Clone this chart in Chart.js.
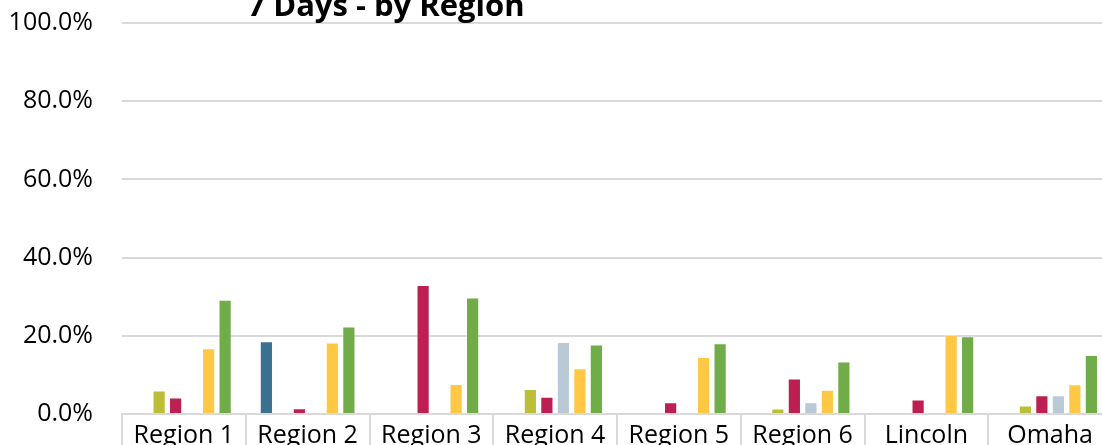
<!DOCTYPE html>
<html>
<head>
<meta charset="utf-8">
<script src="https://cdn.jsdelivr.net/npm/chart.js@4"></script>
<style>
  html, body { margin: 0; padding: 0; background: #fff; }
  #wrap { position: relative; width: 1102px; height: 445px; overflow: hidden; }
  #chart { position: absolute; left: 0; top: -21px; }
</style>
</head>
<body>
<div id="wrap"><canvas id="chart" width="1112" height="491"></canvas></div>
<script>
// Share of cases (%) over the last 7 days, per region
const categories = ['Region 1', 'Region 2', 'Region 3', 'Region 4', 'Region 5', 'Region 6', 'Lincoln', 'Omaha'];
const seriesA = [null, 18.6, null, null, null, null, null, null];
const seriesB = [6.0, null, null, 6.4, null, 1.4, null, 2.2];
const seriesC = [4.2, 1.5, 33.0, 4.4, 3.0, 9.1, 3.7, 4.8];
const seriesD = [null, null, null, 18.4, null, 3.0, null, 4.8];
const seriesE = [16.8, 18.3, 7.7, 11.7, 14.6, 6.2, 20.2, 7.6];
const seriesF = [29.2, 22.4, 29.8, 17.8, 18.1, 13.4, 19.9, 15.1];
const yTicks = [0, 20, 40, 60, 80, 100];
const chartTitle = '7 Days - by Region';

const colors = ['#3a7191', '#bcbf35', '#be1f53', '#b9c9d5', '#fec844', '#70ac47'];
const seriesList = [seriesA, seriesB, seriesC, seriesD, seriesE, seriesF];

const FONT = '"Open Sans", "DejaVu Sans", sans-serif';

// Title sits just above the plot area, partly cut off by the frame
const titlePlugin = {
  id: 'topTitle',
  afterDraw(chart) {
    const ctx = chart.ctx;
    ctx.save();
    ctx.font = 'bold 31px ' + FONT;
    ctx.fillStyle = '#000';
    ctx.textAlign = 'center';
    ctx.textBaseline = 'alphabetic';
    ctx.fillText(chartTitle, 386, chart.chartArea.top - 7);
    ctx.restore();
  }
};

new Chart(document.getElementById('chart'), {
  type: 'bar',
  data: {
    labels: categories,
    datasets: seriesList.map((values, i) => ({
      label: 'Series ' + (i + 1),
      data: values,
      backgroundColor: colors[i],
      borderColor: 'rgba(255,255,255,0.25)',
      borderWidth: 1,
      categoryPercentage: 0.8,
      barPercentage: 0.8
    }))
  },
  options: {
    responsive: false,
    animation: false,
    devicePixelRatio: 1,
    layout: { padding: { top: 2, left: 0, right: 0, bottom: 0 } },
    plugins: {
      legend: { display: false },
      title: { display: false },
      tooltip: { enabled: false }
    },
    scales: {
      x: {
        afterFit(scale) { scale.height = 56; },
        grid: {
          offset: true,
          drawOnChartArea: false,
          drawTicks: true,
          tickLength: 40,
          color: '#d9d9d9',
          lineWidth: 2
        },
        border: { display: true, color: '#d9d9d9', width: 2 },
        ticks: {
          font: { family: FONT, size: 25 },
          color: '#000',
          padding: -33,
          maxRotation: 0,
          autoSkip: false
        }
      },
      y: {
        min: 0,
        max: 100,
        afterFit(scale) { scale.width = 122; },
        afterBuildTicks(scale) { scale.ticks = yTicks.map(v => ({ value: v })); },
        grid: { color: '#d9d9d9', lineWidth: 2, drawTicks: false },
        border: { display: false },
        ticks: {
          font: { family: FONT, size: 25 },
          color: '#000',
          padding: 29,
          callback: v => v.toFixed(1) + '%'
        }
      }
    }
  },
  plugins: [titlePlugin]
});
</script>
</body>
</html>
